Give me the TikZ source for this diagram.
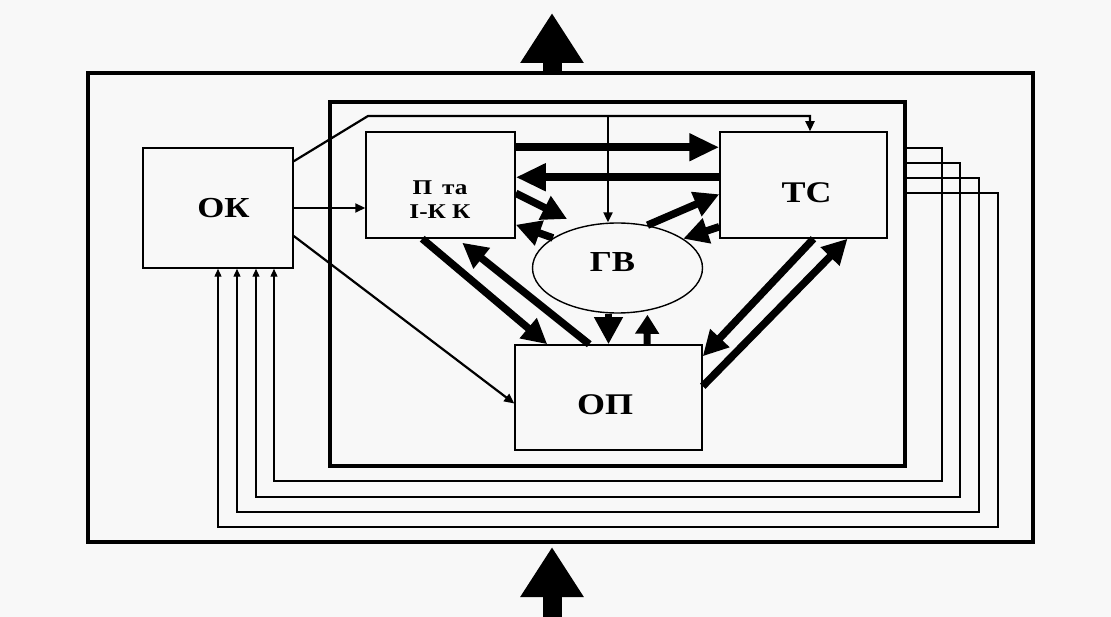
\documentclass[tikz,border=0pt]{standalone}
\usepackage{fontspec}
\setmainfont{Liberation Serif}
\usetikzlibrary{arrows.meta,calc,shapes.geometric}
\newcommand{\wtxt}[1]{\scalebox{1.2}[1]{#1}}
\definecolor{bgc}{HTML}{F8F8F8}
\begin{document}
\begin{tikzpicture}[x=1pt,y=-1pt,
  box/.style={draw, line width=1.5pt, rectangle, inner sep=0pt},
  frame/.style={draw, rectangle, inner sep=0pt},
  txt/.style={inner sep=0pt, font=\fontsize{#1}{#1}\selectfont\bfseries},
  thinarr/.style={line width=2.2pt, -{Triangle[length=10pt,width=9pt]}},
  fbline/.style={line width=1.3pt, -{Triangle[length=8pt,width=7pt]}},
  thickarr/.style={line width=7.5pt, -{Triangle[length=25pt,width=25pt]}},
  wideharr/.style={line width=8pt, -{Triangle[length=30pt,width=26pt]}},
  bigarr/.style={line width=19pt, -{Triangle[length=50pt,width=60pt]}},
]
\fill[bgc] (0,0) rectangle (1111,617);
\useasboundingbox (0,0) rectangle (1111,617);

% frames
\node[frame, line width=4.5pt, minimum width=945pt, minimum height=469pt] (outer) at (560.5,307.5) {};
\node[frame, line width=3.2pt, minimum width=575pt, minimum height=364pt] (inner) at (617.5,284) {};

% blocks
\node[box, minimum width=150pt, minimum height=120pt] (ok) at (218,208) {};
\node[box, minimum width=149pt, minimum height=106pt] (pik) at (440.5,185) {};
\node[box, minimum width=167pt, minimum height=106pt] (ts) at (803.5,185) {};
\node[box, minimum width=187pt, minimum height=105pt] (op) at (608.5,397.5) {};
\node[draw, ellipse, line width=1.4pt, inner sep=0pt, minimum width=170pt, minimum height=90pt] (gv) at (617.5,268) {};

% labels
\node[txt=29] (oktxt) at (223.5,208) {\wtxt{ОК}};
\node[txt=21, align=center] (piktxt) at (440,199.5) {\wtxt{П\hspace{0.4em}та}\\[3pt]\wtxt{І-К К}};
\node[txt=30] (tstxt) at (806.5,192.5) {\wtxt{ТС}};
\node[txt=29] (gvtxt) at (612.5,262.5) {\wtxt{ГВ}};
\node[txt=30] (optxt) at (605,405) {\wtxt{ОП}};

% big input/output arrows
\coordinate (toptip) at (552,13);
\coordinate (botstart) at (552,617);
\coordinate (bottip) at (552,547);
\draw[bigarr] ([xshift=-8.5pt]outer.north) -- (toptip);
\draw[bigarr] (botstart) -- (bottip);

% thin connectors from OK
\coordinate (bendl) at (368,116);
\coordinate (bendr) at (810,116);
\coordinate (tap) at (608,116);
\draw[thinarr] ([yshift=-14pt]ok.north east) -- (bendl) -- (bendr) -- (bendr |- ts.north);
\draw[thinarr] (tap) -- (tap |- gv.north);
\draw[thinarr] (ok.east) -- (ok.east -| pik.west);
\draw[thinarr] ([yshift=-28pt]ok.east) -- ([yshift=-6pt]op.west);

% thick connectors
\draw[wideharr] ([yshift=-16pt]pik.north east) -- ([yshift=-16pt]ts.north west);
\draw[wideharr] ([yshift=-46pt]ts.north west) -- ([yshift=-46pt]pik.north east);
\draw[thickarr] ([yshift=-62pt]pik.north east) -- ([shift={(-9pt,9pt)}]gv.136);
\draw[thickarr] (gv.155) -- ([yshift=14pt]pik.south east);
\draw[thickarr] (gv.55) -- ([yshift=-63pt]ts.north west);
\draw[thickarr] ([yshift=12pt]ts.south west) -- (gv.24);
\draw[thickarr] ([xshift=57pt]pik.south west) -- ([xshift=33pt]op.north west);
\draw[thickarr] ([xshift=75pt]op.north west) -- ([xshift=97pt,yshift=-4pt]pik.south west);
\draw[line width=7pt, -{Triangle[length=27pt,width=27pt]}] (gv.south -| op.north) -- (op.north);
\draw[line width=7pt, -{Triangle[length=19pt,width=23pt]}] ([xshift=38.5pt]op.north) -- ([yshift=-4pt]gv.-55);
\draw[thickarr] ([xshift=10pt]ts.south) -- ([yshift=-12pt]op.north east);
\draw[thickarr] ([yshift=-42pt]op.north east) -- ([xshift=44pt]ts.south);

% feedback lines to OK
\foreach \ys/\xr/\yb/\xl in {148/942/481/274, 163/960/497/256, 178/979/512/237, 193/998/527/218}{
  \draw[fbline] (inner.east |- 0,\ys) -- (\xr,\ys) -- (\xr,\yb) -- (\xl,\yb) -- (ok.south -| \xl,0);
}
\end{tikzpicture}
\end{document}
